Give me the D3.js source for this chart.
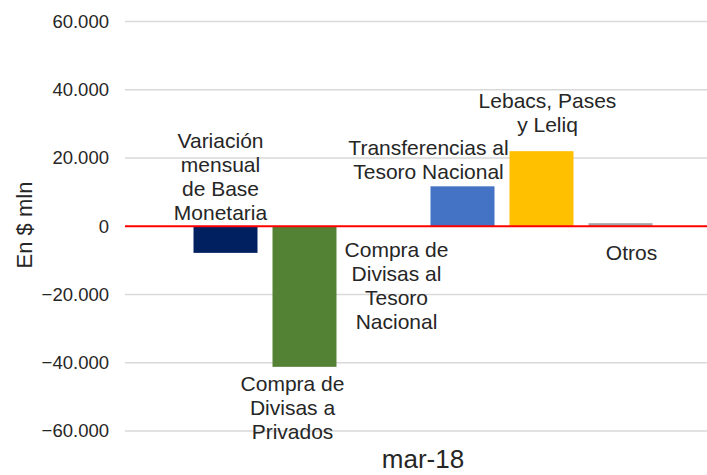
<!DOCTYPE html>
<html>
<head>
<meta charset="utf-8">
<script src="https://cdn.jsdelivr.net/npm/d3@7"></script>
<style>
body{margin:0;background:#fff;}
svg{display:block;font-family:"Liberation Sans",Arial,sans-serif;}
</style>
</head>
<body>
<svg id="chart"></svg>
<script>
var width=707;
var height=475;

// data
var series=["Variación mensual de Base Monetaria","Compra de Divisas a Privados","Compra de Divisas al Tesoro Nacional","Transferencias al Tesoro Nacional","Lebacs, Pases y Leliq","Otros"];
var values=[-7800,-41200,0,11700,22000,900];
var labelLines=[["Variación","mensual","de Base","Monetaria"],["Compra de","Divisas a","Privados"],["Compra de","Divisas al","Tesoro","Nacional"],["Transferencias al","Tesoro Nacional"],["Lebacs, Pases","y Leliq"],["Otros"]];
var yTicks=[-60000,-40000,-20000,0,20000,40000,60000];
var category="mar-18";

// layout of the data labels (px from bar centre / zero line)
var labelDx=[-5,-12,13,-34,6,11];
var labelDy=[-78,165,31,-71,-118,34];
var colors=["#002060","#548235","#ffffff","#4472C4","#FFC000","#A5A5A5"];

var svg=d3.select("#chart").attr("width",width).attr("height",height);

var yScale=d3.scaleLinear()
             .domain([-60000,60000])
             .range([431,21.5]);
var xScale=d3.scaleBand()
             .domain(series)
             .range([186,660])
             .paddingInner(0.19)
             .paddingOuter(0.095);

var fmt=function(d){return d3.format(",")(d).replace(/,/g,".");};

// gridlines
svg.append("g")
   .selectAll("line")
   .data(yTicks.filter(function(d){return d!=0;}))
   .enter()
   .append("line")
   .attr("x1",125).attr("x2",width)
   .attr("y1",function(d){return yScale(d);})
   .attr("y2",function(d){return yScale(d);})
   .attr("stroke","#d9d9d9").attr("stroke-width",1.5);

var yAxis=d3.axisLeft(yScale).tickValues(yTicks).tickFormat(fmt).tickSize(0).tickPadding(0);
var ax=svg.append("g")
   .attr("transform","translate(109,0)")
   .call(yAxis);
ax.select(".domain").remove();
ax.selectAll("text")
  .attr("font-size","18.5px")
  .attr("font-family","'Liberation Sans',Arial,sans-serif")
  .attr("fill","#262626");

// bars
svg.append("g")
   .selectAll("rect")
   .data(values)
   .enter()
   .append("rect")
   .attr("x",function(d,i){return xScale(series[i]);})
   .attr("width",xScale.bandwidth())
   .attr("y",function(d){return yScale(Math.max(0,d));})
   .attr("height",function(d){return Math.abs(yScale(d)-yScale(0));})
   .attr("fill",function(d,i){return colors[i];});

// zero line
svg.append("line")
   .attr("x1",125).attr("x2",width)
   .attr("y1",yScale(0)).attr("y2",yScale(0))
   .attr("stroke","#ff0000").attr("stroke-width",2);

// data labels
var lab=svg.append("g")
   .selectAll("text")
   .data(labelLines)
   .enter()
   .append("text")
   .attr("text-anchor","middle")
   .attr("font-size","21px")
   .attr("fill","#262626")
   .attr("x",function(d,i){return xScale(series[i])+xScale.bandwidth()/2+labelDx[i];})
   .attr("y",function(d,i){return yScale(0)+labelDy[i];});
lab.each(function(lines,i){
  var t=d3.select(this);
  var cx=xScale(series[i])+xScale.bandwidth()/2+labelDx[i];
  lines.forEach(function(l,j){
    t.append("tspan").attr("x",cx).attr("dy",j==0?0:23.8).text(l);
  });
});

// axis title
svg.append("text")
   .attr("transform","translate(32,225) rotate(-90)")
   .attr("text-anchor","middle")
   .attr("font-size","22px")
   .attr("fill","#262626")
   .text("En $ mln");

// category label
svg.append("text")
   .attr("x",(xScale.range()[0]+xScale.range()[1])/2)
   .attr("y",468)
   .attr("text-anchor","middle")
   .attr("font-size","26px")
   .attr("fill","#262626")
   .text(category);
</script>
</body>
</html>
